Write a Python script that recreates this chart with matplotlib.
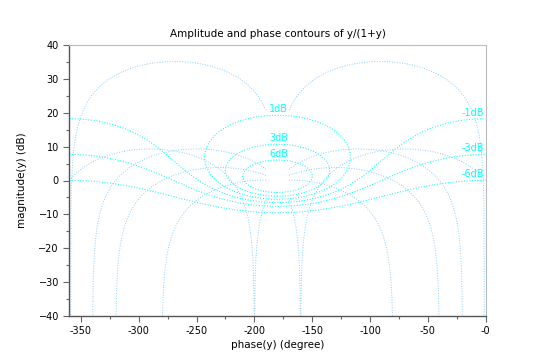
import numpy as np
import matplotlib
matplotlib.use("Agg")
import matplotlib.pyplot as plt

# contour levels of the Nichols chart
gain_levels_db = [-6, -3, -1, 1, 3, 6]               # closed-loop gain (dB)
phase_levels_deg = [-1, -20, -40, -80, -160, -200]   # closed-loop phase (deg)
x_ticks = [-350, -300, -250, -200, -150, -100, -50, 0]
x_tick_labels = ["-350", "-300", "-250", "-200", "-150", "-100", "-50", "-0"]
y_ticks = [-40, -30, -20, -10, 0, 10, 20, 30, 40]

gain_color = "#00ffff"
phase_color = "#87cfff"
dot = (0, (1, 1.6))

plt.rcParams["font.family"] = "DejaVu Sans"
fig = plt.figure(figsize=(5.55, 3.61), dpi=100)
ax = fig.add_axes([0.125, 0.125, 0.75, 0.75])

# --- isogain curves (circles of the Nyquist plane) ---
t = np.linspace(0, 2 * np.pi, 721)
for m in gain_levels_db:
    lam = 10 ** (m / 20.0)
    r = lam / (lam * lam - 1)
    c = -lam * r
    w = c + abs(r) * np.exp(1j * t)
    ph = np.degrees(np.unwrap(np.angle(w))) - 360
    mag = 20 * np.log10(np.abs(w))
    ax.plot(ph, mag, color=gain_color, lw=0.75, ls=dot)
    if m > 0:
        ax.text(-187, mag.max() + 0.3, f"{m}dB", color=gain_color,
                fontsize=7, ha="left", va="bottom")
    else:
        ax.text(-1, mag[-1] + 0.3, f"{m}dB", color=gain_color,
                fontsize=7, ha="right", va="bottom")

# --- isophase curves ---
for th in phase_levels_deg:
    if th > -180:
        x = np.linspace(-170, th - 1e-3, 500)
    else:
        x = np.linspace(-360, th - 1e-3, 500)
    rho = np.sin(np.radians(x - th)) / np.sin(np.radians(th))
    y = 20 * np.log10(np.abs(rho))
    ax.plot(x, y, color=phase_color, lw=0.7, ls=dot)
    ax.plot(-360 - x, y, color=phase_color, lw=0.7, ls=dot)

ax.set_xlim(-360, 0)
ax.set_ylim(-40, 40)
ax.set_xticks(x_ticks)
ax.set_xticklabels(x_tick_labels)
ax.set_yticks(y_ticks)
ax.set_xticks(np.arange(-350, 0, 25), minor=True)
ax.set_yticks(np.arange(-35, 40, 5), minor=True)
ax.tick_params(which="major", length=4.5, width=0.8, color="#666666",
               labelsize=7, pad=3)
ax.tick_params(which="minor", length=2.5, width=0.8, color="#666666")

for side in ["top", "right"]:
    ax.spines[side].set_color("#bbbbbb")
    ax.spines[side].set_linewidth(0.8)
for side in ["left", "bottom"]:
    ax.spines[side].set_color("#555555")
    ax.spines[side].set_linewidth(1.0)

ax.set_title("Amplitude and phase contours of y/(1+y)", fontsize=7.5, pad=6)
ax.set_xlabel("phase(y) (degree)", fontsize=7.5, labelpad=3)
ax.set_ylabel("magnitude(y) (dB)", fontsize=7.5, labelpad=8)

fig.savefig("out.png", dpi=100)
